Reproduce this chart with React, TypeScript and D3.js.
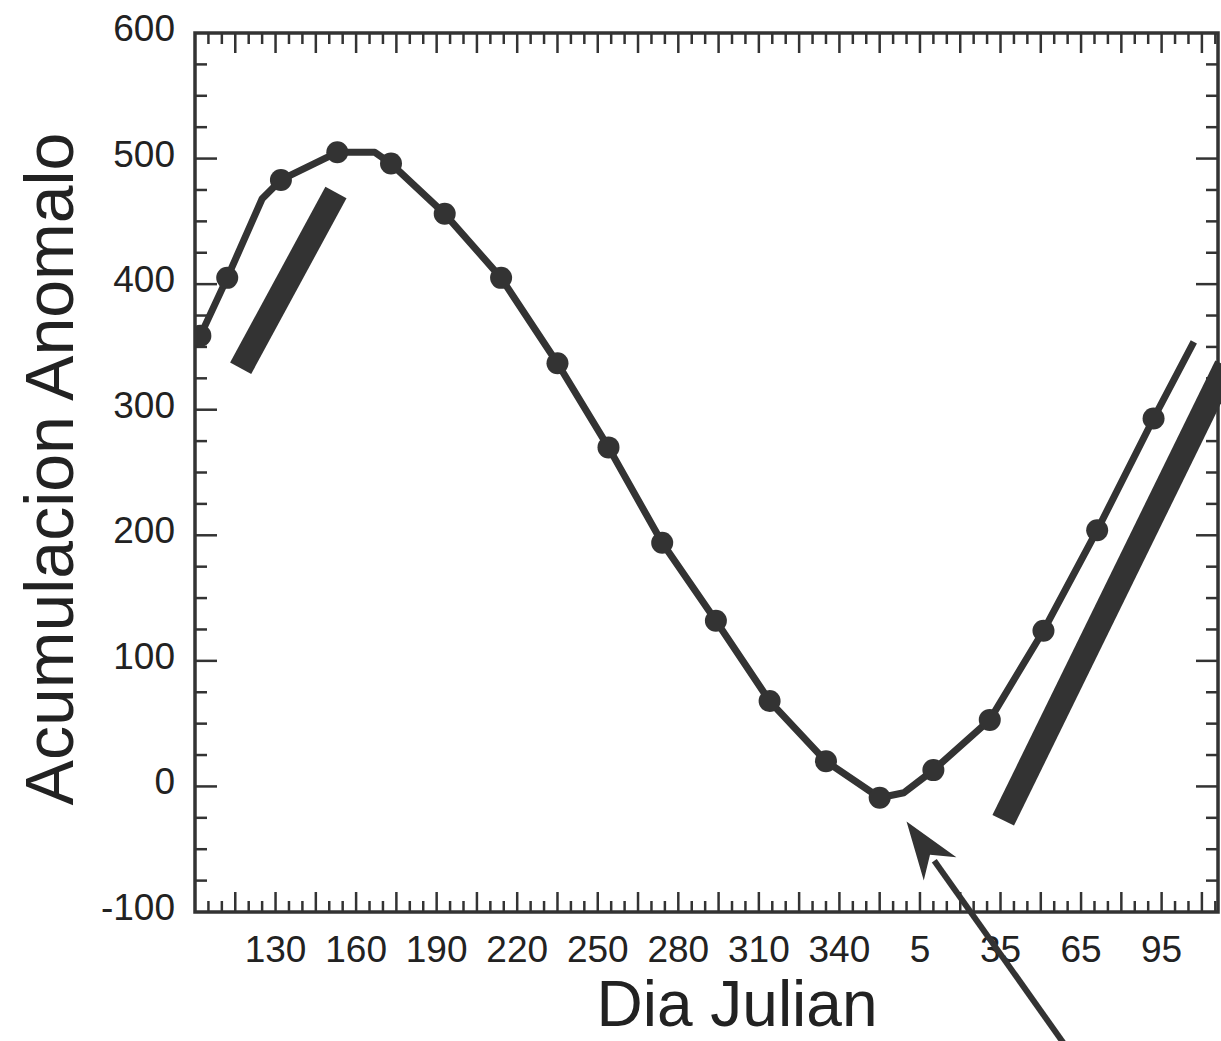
import React from 'react';
import * as d3 from 'd3';

// accumulated anomaly curve (day numbers run past 365)
const lineDays = [100, 102, 112, 125, 132, 153, 167, 173, 193, 214, 235, 254, 274, 294, 314, 335, 355, 364, 375, 396, 416, 436, 457, 472];
const lineValues = [351, 359, 405, 468, 483, 505, 505, 496, 456, 405, 337, 270, 194, 132, 68, 20, -9, -5, 13, 53, 124, 204, 293, 354];

const markerDays = [102, 112, 132, 153, 173, 193, 214, 235, 254, 274, 294, 314, 335, 355, 375, 396, 416, 436, 457];
const markerValues = [359, 405, 483, 505, 496, 456, 405, 337, 270, 194, 132, 68, 20, -9, 13, 53, 124, 204, 293];

const xLabelDays = [130, 160, 190, 220, 250, 280, 310, 340, 370, 400, 430, 460];
const yLabels = [600, 500, 400, 300, 200, 100, 0, -100];

// annotation bars and arrow, in data units [day, value]
const bars = [
  [[117, 333], [152.5, 473]],
  [[401, -27], [484, 335]],
];
const arrow = [[424, -206], [365, -28]];

const W = 1221;
const H = 1041;
const ink = '#333';
const font = '"Liberation Sans", Arial, Helvetica, sans-serif';

export default function App() {
  const x = d3.scaleLinear().domain([100, 481]).range([195, 1218]);
  const y = d3.scaleLinear().domain([-100, 600]).range([912, 33]);
  const [x0, x1] = x.range();
  const [y0, y1] = y.range();

  const line = d3
    .line<number>()
    .x((d, i) => x(lineDays[i]))
    .y((d) => y(d));

  const xTicks = d3.range(105, 481, 5);
  const yTicks = d3.range(-75, 600, 25);

  const barPath = (b: number[][]) => {
    const ax = x(b[0][0]), ay = y(b[0][1]);
    const bx = x(b[1][0]), by = y(b[1][1]);
    const len = Math.hypot(bx - ax, by - ay);
    const nx = (-(by - ay) / len) * 12;
    const ny = ((bx - ax) / len) * 12;
    return `M${ax + nx},${ay + ny}L${bx + nx},${by + ny}L${bx - nx},${by - ny}L${ax - nx},${ay - ny}Z`;
  };

  const tx = x(arrow[1][0]), ty = y(arrow[1][1]);
  const sx = x(arrow[0][0]), sy = y(arrow[0][1]);
  const alen = Math.hypot(tx - sx, ty - sy);
  const ux = (tx - sx) / alen, uy = (ty - sy) / alen;
  const px = -uy, py = ux;
  const headL = 58, headW = 20;
  const bx = tx - ux * headL, by = ty - uy * headL;
  const nxp = tx - ux * headL * 0.7, nyp = ty - uy * headL * 0.7;
  const head = `M${tx},${ty}L${bx + px * headW},${by + py * headW}L${nxp},${nyp}L${bx - px * headW},${by - py * headW}Z`;

  return (
    <svg width={W} height={H} style={{ position: 'absolute', left: 0, top: 0, background: '#fff' }}>
      <defs>
        <clipPath id="plot">
          <rect x={x0} y={y1} width={x1 - x0} height={y0 - y1} />
        </clipPath>
      </defs>

      {/* ticks, all pointing inward */}
      <g stroke={ink} strokeWidth={2.5}>
        {xTicks.map((d) => {
          const big = (d - 100) % 15 === 0;
          const len = big ? 20 : 11;
          return (
            <g key={'x' + d}>
              <line x1={x(d)} x2={x(d)} y1={y0} y2={y0 - len} />
              <line x1={x(d)} x2={x(d)} y1={y1} y2={y1 + len} />
            </g>
          );
        })}
        {yTicks.map((d) => {
          const big = d % 100 === 0;
          const len = big ? 22 : 12;
          return (
            <g key={'y' + d}>
              <line x1={x0} x2={x0 + len} y1={y(d)} y2={y(d)} />
              <line x1={x1} x2={x1 - len} y1={y(d)} y2={y(d)} />
            </g>
          );
        })}
      </g>
      <rect x={x0} y={y1} width={x1 - x0} height={y0 - y1} fill="none" stroke={ink} strokeWidth={3.5} />

      <g fontFamily={font} fill="#222">
        {xLabelDays.map((d) => (
          <text key={d} x={x(d)} y={962} fontSize={37} textAnchor="middle">
            {d > 365 ? d - 365 : d}
          </text>
        ))}
        {yLabels.map((d) => (
          <text key={d} x={175} y={y(d) + 8} fontSize={37} textAnchor="end">
            {d}
          </text>
        ))}
        <text x={737} y={1026} fontSize={64} textAnchor="middle">
          Dia Julian
        </text>
        <text transform={`translate(73,469) rotate(-90)`} fontSize={68} textAnchor="middle">
          Acumulacion Anomalo
        </text>
      </g>

      <g clipPath="url(#plot)">
        <path d={line(lineValues) || ''} fill="none" stroke={ink} strokeWidth={7} strokeLinejoin="round" />
        {markerDays.map((d, i) => (
          <circle key={d} cx={x(d)} cy={y(markerValues[i])} r={11} fill={ink} />
        ))}
      </g>

      {bars.map((b, i) => (
        <path key={i} d={barPath(b)} fill={ink} />
      ))}

      <line x1={sx} y1={sy} x2={bx + ux * 10} y2={by + uy * 10} stroke={ink} strokeWidth={6} />
      <path d={head} fill={ink} />
    </svg>
  );
}
